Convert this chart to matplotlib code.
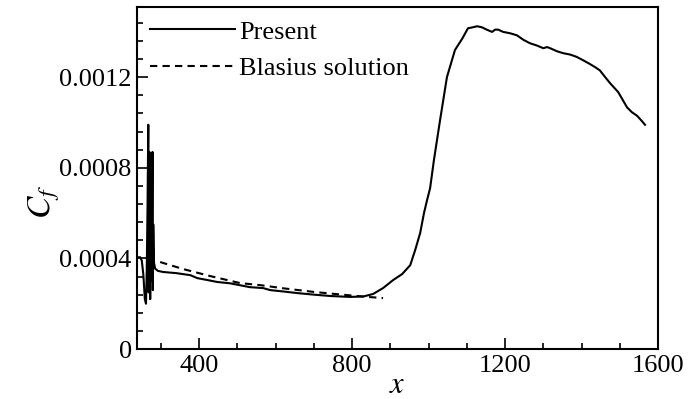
import matplotlib
matplotlib.use("Agg")
import matplotlib.pyplot as plt
from matplotlib.ticker import MultipleLocator, FuncFormatter

plt.rcParams['font.family'] = ['Liberation Serif', 'DejaVu Serif']
plt.rcParams['mathtext.fontset'] = 'stix'

# Present (DNS) skin friction
present_x = [240, 246, 250, 254, 258, 261, 263, 265, 267, 268, 270, 272, 274, 276,
             278, 279, 280, 282, 285, 292, 306, 340, 377, 395, 420, 447, 481, 533,
             567, 586, 620, 656, 700, 743, 795, 830, 855, 881, 907, 931, 952, 965,
             978, 988, 996, 1004, 1014, 1030, 1048, 1069, 1088, 1103, 1115, 1127,
             1140, 1152, 1166, 1174, 1182, 1195, 1213, 1231, 1248, 1265, 1283, 1300,
             1310, 1318, 1335, 1352, 1370, 1387, 1404, 1420, 1435, 1448, 1462, 1475,
             1496, 1519, 1532, 1545, 1556, 1566]
present_cf = [4.05, 4.05, 3.9, 3.3, 2.2, 2.0, 3.5, 6.2, 9.9, 2.5, 8.7, 2.2, 8.5, 3.0,
              8.7, 2.6, 5.5, 3.8, 3.55, 3.45, 3.4, 3.35, 3.26, 3.13, 3.05, 2.96, 2.9,
              2.73, 2.69, 2.6, 2.54, 2.47, 2.4, 2.34, 2.3, 2.32, 2.43, 2.69, 3.04, 3.31,
              3.7, 4.37, 5.12, 6.0, 6.57, 7.1, 8.34, 10.1, 12.0, 13.2, 13.7, 14.16, 14.2,
              14.25, 14.2, 14.1, 14.0, 14.1, 14.1, 14.0, 13.94, 13.85, 13.65, 13.5,
              13.4, 13.28, 13.33, 13.28, 13.15, 13.06, 13.0, 12.9, 12.75, 12.6, 12.45,
              12.3, 12.0, 11.73, 11.34, 10.67, 10.45, 10.3, 10.1, 9.9]

# Blasius solution
blasius_x = [298, 358, 429, 507, 560, 620, 700, 780, 840, 881]
blasius_cf = [3.84, 3.53, 3.22, 2.91, 2.82, 2.68, 2.52, 2.39, 2.30, 2.25]

scale = 1e-4

fig = plt.figure(figsize=(7, 3.99), dpi=100)
ax = fig.add_axes([0.196, 0.1253, 0.744, 0.8572])

ax.plot(present_x, [v * scale for v in present_cf], color='black', lw=1.5,
        label='Present')
ax.plot(blasius_x, [v * scale for v in blasius_cf], color='black', lw=1.5,
        dashes=(3.5, 2.5), label='Blasius solution')

ax.set_xlim(238, 1600)
ax.set_ylim(0, 0.00151)
ax.xaxis.set_major_locator(MultipleLocator(400))
ax.xaxis.set_minor_locator(MultipleLocator(100))
ax.yaxis.set_major_locator(MultipleLocator(0.0004))
ax.yaxis.set_minor_locator(MultipleLocator(0.00008))
ax.yaxis.set_major_formatter(FuncFormatter(lambda v, p: '%g' % round(v, 6)))

ax.tick_params(which='both', direction='in', top=False, right=False,
               labelsize=19, width=1.2)
ax.tick_params(which='major', length=8, pad=4)
ax.tick_params(which='minor', length=4)
for s in ax.spines.values():
    s.set_linewidth(1.5)

ax.set_xlabel('$x$', fontsize=22, labelpad=-4)
ax.set_ylabel('$C_f$', fontsize=24)
ax.yaxis.set_label_coords(-0.145, 0.43)

ax.legend(loc='upper left', frameon=False, fontsize=19, handlelength=3.2,
          handletextpad=0.15, labelspacing=0.5, borderaxespad=0.2,
          borderpad=0.3)

fig.savefig('out.png', dpi=100)
